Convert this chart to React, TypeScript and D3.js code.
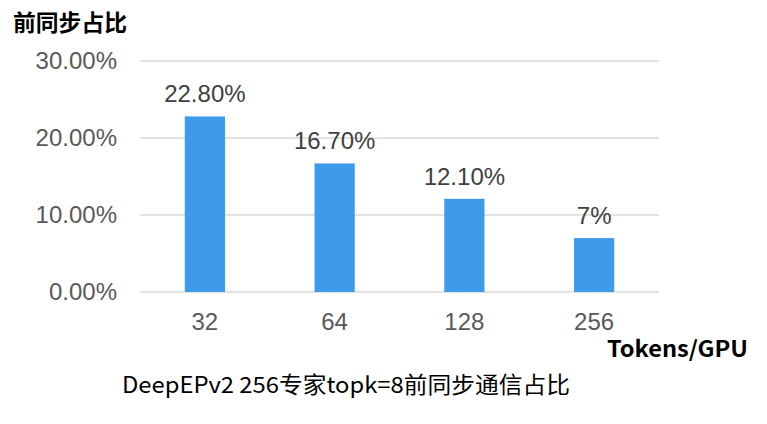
import * as d3 from "d3";

const categories = ["32", "64", "128", "256"];
const values = [22.8, 16.7, 12.1, 7];
const valueLabels = ["22.80%", "16.70%", "12.10%", "7%"];
const yTicks = [0, 10, 20, 30];

const W = 767;
const H = 424;
const left = 140;
const right = 659;
const top = 61;
const bottom = 292;

const numFont = "'Liberation Sans', Arial, sans-serif";
const cjkFont = "'Noto Sans CJK SC', 'Noto Sans', sans-serif";

export default function App() {
  const x = d3.scaleBand<string>().domain(categories).range([left, right]).paddingInner(0.69).paddingOuter(0.345);
  const y = d3.scaleLinear().domain([0, 30]).range([bottom, top]);

  return (
    <svg width={W} height={H} style={{ position: "absolute", left: 0, top: 0, background: "#fff" }}>
      <text x={13} y={31} fontFamily={cjkFont} fontWeight={700} fontSize={22.5} fill="#000" textLength={114} lengthAdjust="spacingAndGlyphs">
        前同步占比
      </text>
      {yTicks.map((t) => (
        <g key={t}>
          <line x1={left} x2={right} y1={y(t)} y2={y(t)} stroke="#d9d9d9" strokeWidth={1.5} />
          <text x={117} y={y(t) + 8.3} textAnchor="end" fontFamily={numFont} fontSize={24} fill="#595959">
            {t.toFixed(2) + "%"}
          </text>
        </g>
      ))}
      {categories.map((c, i) => (
        <g key={c}>
          <rect x={x(c)} y={y(values[i])} width={x.bandwidth()} height={y(0) - y(values[i])} fill="#3d9be9" />
          <text
            x={x(c)! + x.bandwidth() / 2}
            y={y(values[i]) - 14}
            textAnchor="middle"
            fontFamily={numFont}
            fontSize={24}
            fill="#404040"
          >
            {valueLabels[i]}
          </text>
          <text
            x={x(c)! + x.bandwidth() / 2}
            y={330}
            textAnchor="middle"
            fontFamily={numFont}
            fontSize={24}
            fill="#595959"
          >
            {c}
          </text>
        </g>
      ))}
      <text x={607} y={357} fontFamily={cjkFont} fontWeight={700} fontSize={22} fill="#000" textLength={141} lengthAdjust="spacingAndGlyphs">
        Tokens/GPU
      </text>
      <text x={122} y={393} fontFamily={cjkFont} fontSize={22.5} fill="#000" textLength={448} lengthAdjust="spacingAndGlyphs">
        DeepEPv2 256专家topk=8前同步通信占比
      </text>
    </svg>
  );
}
